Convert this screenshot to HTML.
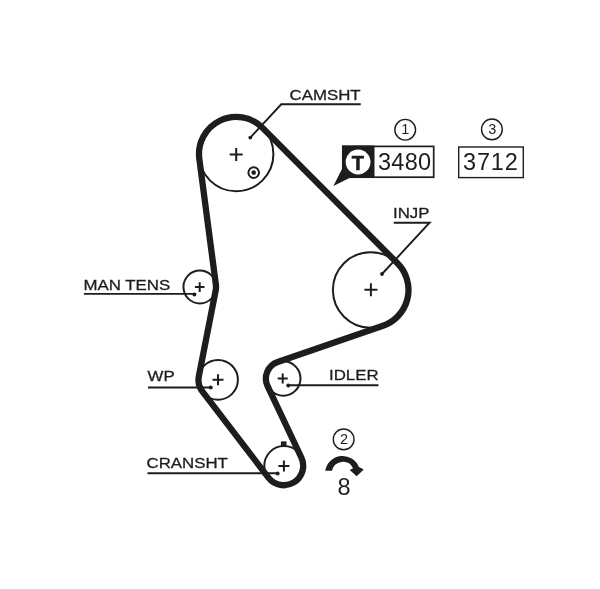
<!DOCTYPE html>
<html><head><meta charset="utf-8"><title>Timing belt diagram</title>
<style>
html,body{margin:0;padding:0;background:#fff;}
body{width:600px;height:589px;overflow:hidden;}
svg{display:block;filter:grayscale(1);}
text{font-family:"Liberation Sans",sans-serif;fill:#1d1d1b;}
.lb{font-size:15.45px;stroke:#1d1d1b;stroke-width:0.3px;}
.num{font-size:23.5px;}
.cn{font-size:14.5px;text-anchor:middle;}
.ln{stroke:#1d1d1b;stroke-width:1.9;fill:none;}
.c{stroke:#1d1d1b;stroke-width:2;fill:none;}
</style></head><body>
<svg width="600" height="589" viewBox="0 0 600 589">
<rect width="600" height="589" fill="#fff"/>
<!-- pulleys -->
<circle class="c" cx="236.2" cy="154.1" r="37.2"/>
<circle class="c" cx="370.7" cy="290" r="37.8"/>
<circle class="c" cx="283.3" cy="378.5" r="17.2"/>
<circle class="c" cx="284" cy="465.8" r="19.7"/>
<circle class="c" cx="218" cy="379.8" r="19.9"/>
<circle class="c" cx="199.85" cy="287" r="16.4"/>
<rect x="280.9" y="441.4" width="5.6" height="5" fill="#1d1d1b"/>
<!-- belt -->
<path d="M262.56 127.85 L397.48 263.33 A37.80 37.80 0 0 1 383.02 325.73 L277.70 362.06 A17.50 17.50 0 0 0 267.58 386.08 L301.34 457.51 A19.40 19.40 0 0 1 268.40 477.60 L202.52 391.66 A19.50 19.50 0 0 1 198.87 376.04 L215.75 290.12 A16.20 16.20 0 0 0 215.91 284.88 L199.32 158.96 A37.20 37.20 0 0 1 262.56 127.85 Z" fill="none" stroke="#1d1d1b" stroke-width="6.3" stroke-linejoin="round"/>
<!-- centre marks -->
<path d="M229.7 154.6H242.7M236.2 148.1V161.1" stroke="#1d1d1b" stroke-width="2" fill="none"/>
<path d="M364.4 289.8H377.4M370.9 283.3V296.3" stroke="#1d1d1b" stroke-width="2" fill="none"/>
<path d="M277.7 378.6H287.7M282.7 373.6V383.6" stroke="#1d1d1b" stroke-width="2" fill="none"/>
<path d="M278.4 465.9H289.4M283.9 460.4V471.4" stroke="#1d1d1b" stroke-width="2" fill="none"/>
<path d="M212.5 379.7H223.5M218 374.2V385.2" stroke="#1d1d1b" stroke-width="2" fill="none"/>
<path d="M194.9 287.1H204.5M199.7 282.3V291.9" stroke="#1d1d1b" stroke-width="2" fill="none"/>
<!-- timing mark -->
<circle class="c" cx="253.7" cy="172.6" r="5.3"/>
<circle cx="253.7" cy="172.6" r="2.3" fill="#1d1d1b"/>
<!-- leaders -->
<path class="ln" d="M360.75 104.25H281.25L250.3 137.6"/>
<circle cx="250.3" cy="137.6" r="1.9" fill="#1d1d1b"/>
<path class="ln" d="M393.75 222.7H429.6L382 274"/>
<circle cx="382" cy="274" r="1.9" fill="#1d1d1b"/>
<path class="ln" d="M84 293.9H194.4"/>
<circle cx="194.4" cy="294.4" r="2" fill="#1d1d1b"/>
<path class="ln" d="M148 387.5H210.7"/>
<circle cx="210.7" cy="387.4" r="2" fill="#1d1d1b"/>
<path class="ln" d="M147.5 473.2H277.6"/>
<circle cx="277.6" cy="473.6" r="2" fill="#1d1d1b"/>
<path class="ln" d="M288.25 385.2H378.5"/>
<circle cx="288.25" cy="385.4" r="2" fill="#1d1d1b"/>
<!-- labels -->
<text class="lb" transform="translate(289.5 99.5) scale(1.09 1)">CAMSHT</text>
<text class="lb" transform="translate(393 217.5) scale(1.09 1)">INJP</text>
<text class="lb" transform="translate(83.5 289.5) scale(1.09 1)">MAN TENS</text>
<text class="lb" transform="translate(147.5 381.3) scale(1.09 1)">WP</text>
<text class="lb" transform="translate(146.5 467.5) scale(1.09 1)">CRANSHT</text>
<text class="lb" transform="translate(329 380) scale(1.09 1)">IDLER</text>
<!-- part number 1 -->
<path d="M342 145.5H374.5V178H349.5L333.4 186L342 169Z" fill="#1d1d1b"/>
<rect x="342.8" y="146.4" width="90.9" height="30.8" class="c" style="stroke-width:1.7"/>
<circle cx="358.1" cy="162" r="12.4" fill="#fff"/>
<text x="357.8" y="169.8" font-size="20" font-weight="bold" text-anchor="middle" stroke="#1d1d1b" stroke-width="0.6">T</text>
<text class="num" x="378.1" y="169.8" letter-spacing="0.2">3480</text>
<circle class="c" cx="405.2" cy="129.75" r="10.35" style="stroke-width:1.4"/>
<text class="cn" x="405.3" y="133.9">1</text>
<!-- part number 3 -->
<rect x="458.7" y="147" width="64.6" height="30.6" class="c" style="stroke-width:1.4"/>
<text class="num" x="463.1" y="169.8" letter-spacing="0.8">3712</text>
<circle class="c" cx="491.9" cy="129.4" r="10.35" style="stroke-width:1.4"/>
<text class="cn" x="492.3" y="133.8">3</text>
<!-- rotation 2 -->
<circle class="c" cx="343.65" cy="439.4" r="10.35" style="stroke-width:1.4"/>
<text class="cn" x="344" y="443.7">2</text>
<path d="M325.3 470.8 A17.57 17.57 0 0 1 359 467 L363.7 469.5 L356.7 476.3 L349.7 470 L353.1 468.3 A11.27 11.27 0 0 0 331.9 470.8 Z" fill="#1d1d1b"/>
<text class="num" x="344.1" y="494.6" text-anchor="middle">8</text>
</svg>
</body></html>
